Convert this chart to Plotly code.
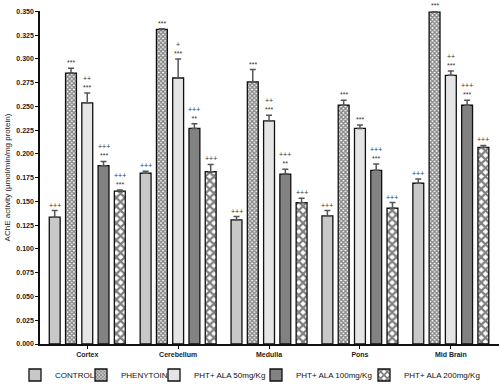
import plotly.graph_objects as go

regions = ["Cortex", "Cerebellum", "Medulla", "Pons", "Mid Brain"]
series_names = ["CONTROL", "PHENYTOIN", "PHT+ ALA 50mg/Kg", "PHT+ ALA 100mg/Kg", "PHT+ ALA 200mg/Kg"]

control = [0.1335, 0.1797, 0.1307, 0.1349, 0.1692]
phenytoin = [0.2852, 0.3311, 0.2758, 0.2513, 0.3493]
ala50 = [0.2538, 0.2800, 0.2349, 0.2269, 0.2828]
ala100 = [0.1877, 0.2269, 0.1789, 0.1828, 0.2513]
ala200 = [0.1610, 0.1813, 0.1488, 0.1429, 0.2069]

control_err = [0.0070, 0.0020, 0.0035, 0.0055, 0.0045]
phenytoin_err = [0.0050, 0.0006, 0.0130, 0.0053, 0.0010]
ala50_err = [0.0105, 0.0200, 0.0060, 0.0035, 0.0045]
ala100_err = [0.0045, 0.0050, 0.0050, 0.0066, 0.0053]
ala200_err = [0.0012, 0.0077, 0.0046, 0.0060, 0.0021]

control_sig = ["+++", "+++", "+++", "+++", "+++"]
phenytoin_sig = ["***", "***", "***", "***", "***"]
ala50_sig = ["++<br>***", "+<br>***", "++<br>***", "***", "++<br>***"]
ala100_sig = ["+++<br>***", "+++<br>**", "+++<br>**", "+++<br>***", "+++<br>***"]
ala200_sig = ["+++<br>***", "+++", "+++", "+++", "+++"]

values = [control, phenytoin, ala50, ala100, ala200]
errors = [control_err, phenytoin_err, ala50_err, ala100_err, ala200_err]
sigs = [control_sig, phenytoin_sig, ala50_sig, ala100_sig, ala200_sig]

patterns = [
    dict(shape=".", bgcolor="#d2d2d2", fgcolor="#a4a4a4", size=2, solidity=0.5),
    dict(shape="x", bgcolor="#ffffff", fgcolor="#111111", size=3, solidity=0.7),
    dict(shape=".", bgcolor="#ececec", fgcolor="#c4c4c4", size=2, solidity=0.4),
    dict(shape=".", bgcolor="#7c7c7c", fgcolor="#9a9a9a", size=2, solidity=0.4),
    dict(shape="x", bgcolor="#ffffff", fgcolor="#000000", size=6, solidity=0.6),
]

# legend entry left edges, in figure (container) fraction
legend_x = [15 / 500, 81 / 500, 154 / 500, 256 / 500, 364 / 500]
legend_keys = ["legend", "legend2", "legend3", "legend4", "legend5"]

xs = list(range(len(regions)))
bargap = 0.105
fig = go.Figure()
for j, name in enumerate(series_names):
    fig.add_trace(go.Bar(
        x=xs, y=values[j], name=name, legend=legend_keys[j],
        marker=dict(color=patterns[j]["bgcolor"], pattern=patterns[j],
                    line=dict(color="#111111", width=1.3)),
        error_y=dict(type="data", array=errors[j], arrayminus=[0] * len(xs),
                     symmetric=False, color="#555555", thickness=1.5, width=3),
    ))

slot = (1 - bargap) / len(series_names)
for j in range(len(series_names)):
    for i in xs:
        fig.add_annotation(
            x=i + (j - 2) * slot, y=values[j][i] + errors[j][i],
            text=sigs[j][i], showarrow=False, yanchor="bottom", yshift=0,
            font=dict(size=7, color="#333333", family="Liberation Sans"),
        )

legend_common = dict(orientation="h", xanchor="left", xref="container", yref="container",
                     y=1 - 375 / 385, yanchor="middle",
                     font=dict(size=8, color="#111111", family="Liberation Sans"),
                     itemwidth=30, bgcolor="rgba(0,0,0,0)", borderwidth=0)
layout_legends = {}
for k, key in enumerate(legend_keys):
    layout_legends[key] = dict(legend_common, x=legend_x[k])

fig.update_layout(
    width=500, height=385,
    margin=dict(l=40, r=1, t=11, b=41, autoexpand=False),
    plot_bgcolor="white", paper_bgcolor="white",
    barmode="group", bargap=bargap, bargroupgap=0.33,
    font=dict(family="Liberation Sans", color="#222222"),
    showlegend=True,
    **layout_legends,
)
fig.update_xaxes(
    tickvals=xs, ticktext=regions, automargin=False,
    range=[-0.52, 4.53], showline=True, linecolor="#111111", linewidth=1.5,
    ticks="outside", ticklen=3, tickcolor="#111111", showgrid=False, zeroline=False,
    tickfont=dict(size=7, color="#222222", weight="bold"),
)
fig.update_yaxes(
    range=[0, 0.3505], tickvals=[k * 0.025 for k in range(15)], tickformat=".3f",
    automargin=False,
    showline=True, linecolor="#111111", linewidth=1.5,
    ticks="outside", ticklen=3, tickcolor="#111111", showgrid=False, zeroline=False,
    tickfont=dict(size=7, color="#222222", weight="bold"),
    title=dict(text="AChE activity (µmol/min/mg protein)", font=dict(size=8), standoff=5),
)

fig.write_html("out.html", config={"displayModeBar": False},
               post_script="document.body.style.margin='0px';")
